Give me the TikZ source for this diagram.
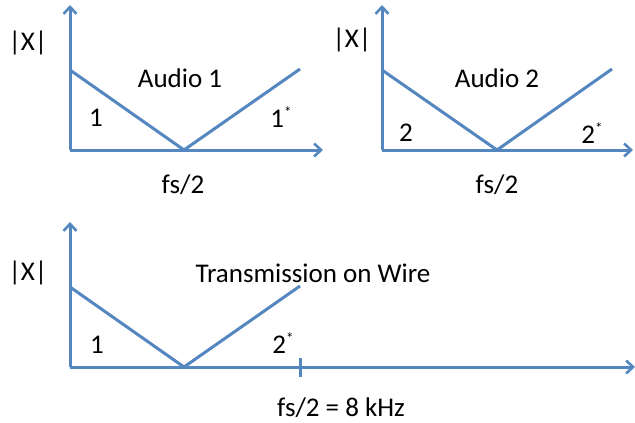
\documentclass[tikz,border=0pt]{standalone}
\usepackage{fontspec}
\setmainfont{Carlito}
\usetikzlibrary{arrows.meta}
\definecolor{axblue}{RGB}{84,134,192}
\tikzset{
  axis/.style={draw=axblue, line width=3pt, -{Straight Barb[length=7pt,width=13pt,line width=2.6pt]}},
  curve/.style={draw=axblue, line width=3pt, line join=round},
  lbl/.style={inner sep=0pt, font=\fontsize{27}{32}\selectfont},
}
\newcommand{\astr}{\raisebox{10pt}{\fontsize{15}{15}\selectfont *}}
\begin{document}
\begin{tikzpicture}[x=1pt,y=-1pt]
\useasboundingbox (0,0) rectangle (635,423);
% top-left panel
\coordinate (o1) at (70,150);
\coordinate (t1) at (70,5);
\coordinate (r1) at (323,150);
\coordinate (a1) at (70,70);
\coordinate (v1) at (184,150);
\coordinate (e1) at (300,69);
\draw[axis] (o1) -- (t1);
\draw[axis] (o1) -- (r1);
\draw[curve] (a1) -- (v1) -- (e1);
\node[lbl] (xa) at (28,43) {|X|};
\node[lbl] (ta) at (180,78) {Audio 1};
\node[lbl] (na) at (96,118) {1};
\node[lbl] (sa) at (281,117) {1\astr};
\node[lbl] (fa) at (183,185) {fs/2};
% top-right panel
\coordinate (o2) at (382,150);
\coordinate (t2) at (382,5);
\coordinate (r2) at (633,150);
\coordinate (a2) at (382,70);
\coordinate (v2) at (497,150);
\coordinate (e2) at (612,69);
\draw[axis] (o2) -- (t2);
\draw[axis] (o2) -- (r2);
\draw[curve] (a2) -- (v2) -- (e2);
\node[lbl] (xb) at (352,40) {|X|};
\node[lbl] (tb) at (497,78) {Audio 2};
\node[lbl] (nb) at (406,133) {2};
\node[lbl] (sb) at (592,133) {2\astr};
\node[lbl] (fb) at (497,185) {fs/2};
% bottom panel
\coordinate (o3) at (70,367);
\coordinate (t3) at (70,222);
\coordinate (r3) at (635,367);
\coordinate (a3) at (70,287);
\coordinate (v3) at (184,367);
\coordinate (e3) at (300,286);
\coordinate (k1) at (300,358);
\coordinate (k2) at (300,377);
\draw[axis] (o3) -- (t3);
\draw[axis] (o3) -- (r3);
\draw[curve] (a3) -- (v3) -- (e3);
\draw[curve] (k1) -- (k2);
\node[lbl] (xc) at (28,273) {|X|};
\node[lbl] (tc) at (313,273) {Transmission on Wire};
\node[lbl] (nc) at (97,345) {1};
\node[lbl] (sc) at (283,343) {2\astr};
\node[lbl] (fc) at (341,408) {fs/2 = 8 kHz};
\end{tikzpicture}
\end{document}
